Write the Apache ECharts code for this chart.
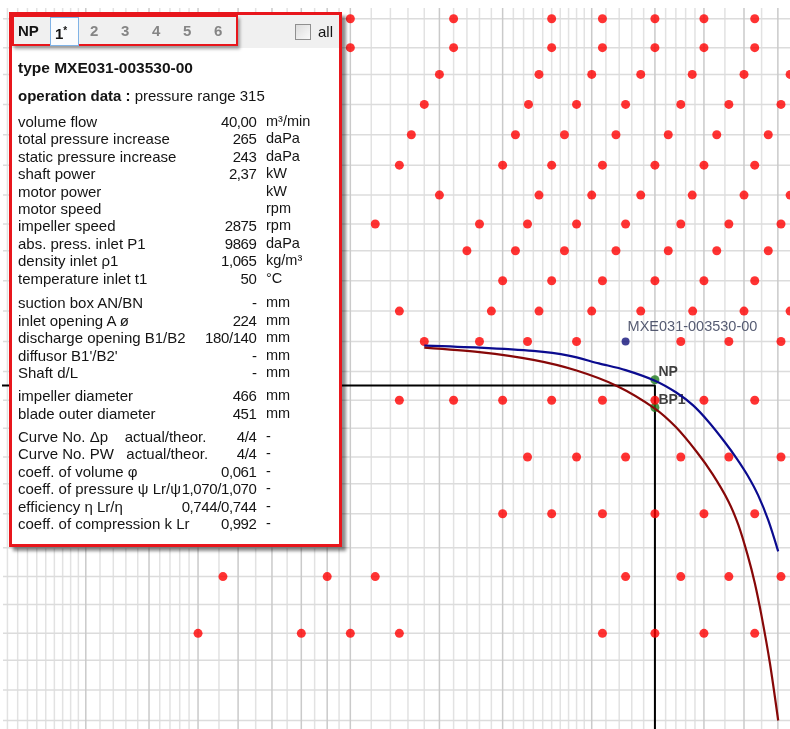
<!DOCTYPE html>
<html>
<head>
<meta charset="utf-8">
<script src="https://cdn.jsdelivr.net/npm/echarts@6/dist/echarts.min.js"></script>
<style>
  html, body { margin: 0; padding: 0; background: #fff; }
  #chart { position: absolute; left: 0; top: 0; width: 790px; height: 729px; }
  #panel {
    position: absolute; left: 9px; top: 12px; width: 327px; height: 529px;
    border: 3px solid #e8161c; background: #fff;
    box-shadow: 4px 4px 3px rgba(0,0,0,0.45);
    font-family: "Liberation Sans", Arial, sans-serif; color: #141414;
  }
  #tabbar { position: absolute; left: 0; top: 0; width: 327px; height: 33px; background: #f0f0f0; }
  #tabbox {
    position: absolute; left: 0; top: 0; width: 222px; height: 27px;
    border: 2.5px solid #e8161c; box-shadow: 2px 3px 3px rgba(0,0,0,0.35);
  }
  .tab { position: absolute; top: 7px; font-size: 15px; font-weight: bold; line-height: 18px; }
  .tab.dim { color: #858585; }
  #tabsel { position: absolute; left: 38px; top: 2px; width: 27px; height: 27px; border: 1px solid #7fb2e6; background: #fbfcfe; }
  #chk { position: absolute; left: 283px; top: 9px; width: 14px; height: 14px; border: 1px solid #8f8f8f;
         background: linear-gradient(135deg, #dcdcdc, #fafafa); }
  #all { position: absolute; left: 306px; top: 8px; font-size: 15px; line-height: 18px; }
  .hd { position: absolute; left: 6px; font-size: 15.5px; line-height: 18px; white-space: pre; }
  .row { position: absolute; left: 6px; width: 320px; height: 17.4px; font-size: 15px; line-height: 17.4px; white-space: pre; }
  .row .v { position: absolute; right: 81.5px; top: 0; letter-spacing: -0.4px; }
  .row .u { position: absolute; left: 248px; top: 0; font-size: 14.5px; }
</style>
</head>
<body>
<div id="chart"></div>
<div id="panel">
  <div id="tabbar">
    <div id="tabbox"></div>
    <div id="tabsel"></div>
    <div class="tab" style="left:6px">NP</div>
    <div class="tab" style="left:43px">1<sup style="font-size:10px;vertical-align:5px">*</sup></div>
    <div class="tab dim" style="left:78px">2</div>
    <div class="tab dim" style="left:109px">3</div>
    <div class="tab dim" style="left:140px">4</div>
    <div class="tab dim" style="left:171px">5</div>
    <div class="tab dim" style="left:202px">6</div>
    <div id="chk"></div>
    <div id="all">all</div>
  </div>
  <div class="hd" style="top:44px;font-weight:bold">type MXE031-003530-00</div>
  <div class="hd" style="top:72px;font-size:15px"><b>operation data :</b> pressure range 315</div>
  <div id="rows"></div>
</div>
<script>
// Info panel contents: label, value, unit
const operationRows = [
  ["volume flow", "40,00", "m³/min"],
  ["total pressure increase", "265", "daPa"],
  ["static pressure increase", "243", "daPa"],
  ["shaft power", "2,37", "kW"],
  ["motor power", "", "kW"],
  ["motor speed", "", "rpm"],
  ["impeller speed", "2875", "rpm"],
  ["abs. press. inlet P1", "9869", "daPa"],
  ["density inlet ρ1", "1,065", "kg/m³"],
  ["temperature inlet t1", "50", "°C"]
];
const openingRows = [
  ["suction box AN/BN", "-", "mm"],
  ["inlet opening A ø", "224", "mm"],
  ["discharge opening B1/B2", "180/140", "mm"],
  ["diffusor B1'/B2'", "-", "mm"],
  ["Shaft d/L", "-", "mm"]
];
const impellerRows = [
  ["impeller diameter", "466", "mm"],
  ["blade outer diameter", "451", "mm"]
];
const coeffRows = [
  ["Curve No. Δp    actual/theor.", "4/4", "-"],
  ["Curve No. PW   actual/theor.", "4/4", "-"],
  ["coeff. of volume φ", "0,061", "-"],
  ["coeff. of pressure ψ Lr/ψ", "1,070/1,070", "-"],
  ["efficiency η Lr/η", "0,744/0,744", "-"],
  ["coeff. of compression k Lr", "0,992", "-"]
];

// Grid lines of the log-log fan chart: volume flow (m³/min) and pressure (daPa)
const flowLinesMinor = [2.1, 2.2, 2.3, 2.4, 2.5, 2.6, 2.7, 2.8, 2.9, 3.2, 3.4, 3.6, 3.8, 4.2, 4.4, 4.6, 4.8,
  5.5, 6.5, 7.5, 8.5, 9.5, 11, 12, 13, 14, 16, 17, 18, 19, 21, 22, 23, 24, 25, 26, 27, 28, 29,
  32, 34, 36, 38, 42, 44, 46, 48, 55, 65];
const flowLinesMajor = [3, 4, 5, 6, 7, 8, 9, 10, 15, 20, 30, 40, 50, 60, 70];
const pressureLines = [71, 80, 90, 100, 112, 125, 140, 160, 180, 200, 224, 250, 280, 315, 355, 400,
  450, 500, 560, 630, 710, 800, 900, 1000, 1120];

// Fan range points: one pressure level per row with its volume flows
const rowPressure = [1120, 1000, 900, 800, 710, 630, 560, 500, 450, 400, 355, 315, 250, 200, 160, 125, 100];
const rowFlows = [
  [10, 16, 25, 31.5, 40, 50, 63],
  [10, 16, 25, 31.5, 40, 50, 63],
  [15, 23.6, 30, 37.5, 47.4, 60, 74],
  [14, 22.5, 28, 35, 45, 56, 71],
  [13.2, 21.2, 26.5, 33.5, 42.5, 53, 67],
  [12.5, 20, 25, 31.5, 40, 50, 63],
  [15, 23.6, 30, 37.5, 47.4, 60, 74],
  [11.2, 18, 22.4, 28, 35, 45, 56, 71],
  [17, 21.2, 26.5, 33.5, 42.5, 53, 67],
  [20, 25, 31.5, 40, 50, 63],
  [12.5, 19, 23.6, 30, 37.5, 47.5, 60, 74],
  [14, 18, 22.4, 28, 45, 56, 71],
  [12.5, 16, 20, 25, 31.5, 40, 50, 63],
  [22.4, 28, 35, 45, 56, 71],
  [20, 25, 31.5, 40, 50, 63],
  [5.6, 9, 11.2, 35, 45, 56, 71],
  [5, 8, 10, 12.5, 31.5, 40, 50, 63]
];

// Fan curves of MXE031-003530-00
const totalCurveFlow = [14, 18, 23, 27, 31, 35, 40, 44, 47.6, 51, 55, 58, 61, 64, 67, 70.1];
const totalCurvePress = [310, 307.5, 303.5, 298, 289, 281.5, 270, 258, 245, 230, 212, 199, 186, 172, 156, 138];
const staticCurveFlow = [14, 18, 23, 28, 33.8, 40, 44, 48.4, 52, 55.9, 58.5, 61, 63, 65, 67.5, 70.1];
const staticCurvePress = [307.5, 302, 293, 281, 264, 242, 225, 204, 187, 168, 153, 136, 122, 107, 89, 71];

// Operating point and selected type
const dutyFlow = 40, dutyPressure = 265;
const npPoint = [40, 271];
const bp1Point = [40, 243];
const typePoint = [35.0, 315];
const typeName = "MXE031-003530-00";

// ---- panel text ----
(function buildRows() {
  const host = document.getElementById('rows');
  const groups = [[operationRows, 121.7], [openingRows, 303], [impellerRows, 396], [coeffRows, 436.7]];
  groups.forEach(([rows, firstCenter]) => {
    rows.forEach((r, i) => {
      const d = document.createElement('div');
      d.className = 'row';
      d.style.top = (firstCenter + i * 17.4 - 8.7 - 15) + 'px';
      d.textContent = r[0];
      const v = document.createElement('span'); v.className = 'v'; v.textContent = r[1];
      const u = document.createElement('span'); u.className = 'u'; u.textContent = r[2];
      d.appendChild(v); d.appendChild(u);
      host.appendChild(d);
    });
  });
})();

// ---- chart ----
const chart = echarts.init(document.getElementById('chart'), null, { renderer: 'canvas' });

function gridLineSeries(values, vertical, color, width) {
  return {
    type: 'custom', silent: true, z: 1, animation: false,
    encode: { x: 0, y: 1 },
    data: values.map(v => vertical ? [v, 200] : [10, v]),
    renderItem: (params, api) => {
      const cs = params.coordSys;
      if (vertical) {
        const x = api.coord([api.value(0), 200])[0];
        return { type: 'line', shape: { x1: x, y1: cs.y, x2: x, y2: cs.y + cs.height }, style: { stroke: color, lineWidth: width } };
      }
      const y = api.coord([10, api.value(1)])[1];
      return { type: 'line', shape: { x1: cs.x, y1: y, x2: cs.x + cs.width, y2: y }, style: { stroke: color, lineWidth: width } };
    }
  };
}

const fanPoints = [];
rowPressure.forEach((p, i) => rowFlows[i].forEach(q => fanPoints.push([q, p])));

const hidden = { show: false };
chart.setOption({
  animation: false,
  grid: { left: 3, right: 0, top: 8, bottom: 0 },
  xAxis: { type: 'log', logBase: 10, min: 2.058, max: 73.97, axisLine: hidden, axisTick: hidden, axisLabel: hidden, splitLine: hidden },
  yAxis: { type: 'log', logBase: 10, min: 68.66, max: 1168.6, axisLine: hidden, axisTick: hidden, axisLabel: hidden, splitLine: hidden },
  series: [
    gridLineSeries(flowLinesMinor, true, '#e2e2e2', 1.5),
    gridLineSeries(pressureLines, false, '#dcdcdc', 1.5),
    gridLineSeries(flowLinesMajor, true, '#cacaca', 1.5),
    {
      type: 'line', z: 3, silent: true, symbol: 'none',
      data: [[1, dutyPressure], [dutyFlow, dutyPressure], [dutyFlow, 50]],
      lineStyle: { color: '#000', width: 2 }
    },
    {
      type: 'scatter', z: 4, silent: true, symbol: 'circle', symbolSize: 9,
      data: [npPoint, bp1Point],
      itemStyle: { color: '#1e7b1e' },
      label: {
        show: true, formatter: p => p.dataIndex === 0 ? 'NP' : 'BP1',
        position: [8, -10], align: 'left', verticalAlign: 'top',
        fontFamily: 'Liberation Sans, Arial, sans-serif', fontWeight: 'bold', fontSize: 14, color: '#111'
      }
    },
    {
      type: 'scatter', z: 5, silent: true, symbol: 'circle', symbolSize: 9,
      data: fanPoints, itemStyle: { color: '#ff0000' }
    },
    {
      type: 'line', z: 6, silent: true, symbol: 'none', smooth: 0.3,
      data: totalCurveFlow.map((q, i) => [q, totalCurvePress[i]]),
      lineStyle: { color: '#0b0b8f', width: 2.2 }
    },
    {
      type: 'line', z: 6, silent: true, symbol: 'none', smooth: 0.3,
      data: staticCurveFlow.map((q, i) => [q, staticCurvePress[i]]),
      lineStyle: { color: '#870808', width: 2.2 }
    },
    {
      type: 'scatter', z: 7, silent: true, symbol: 'circle', symbolSize: 8,
      data: [typePoint], itemStyle: { color: '#12127a' },
      label: {
        show: true, formatter: typeName, position: [6, -18], align: 'left', verticalAlign: 'top',
        fontFamily: 'Liberation Sans, Arial, sans-serif', fontSize: 14.5, color: '#2c3350'
      }
    }
  ]
});
</script>
</body>
</html>
